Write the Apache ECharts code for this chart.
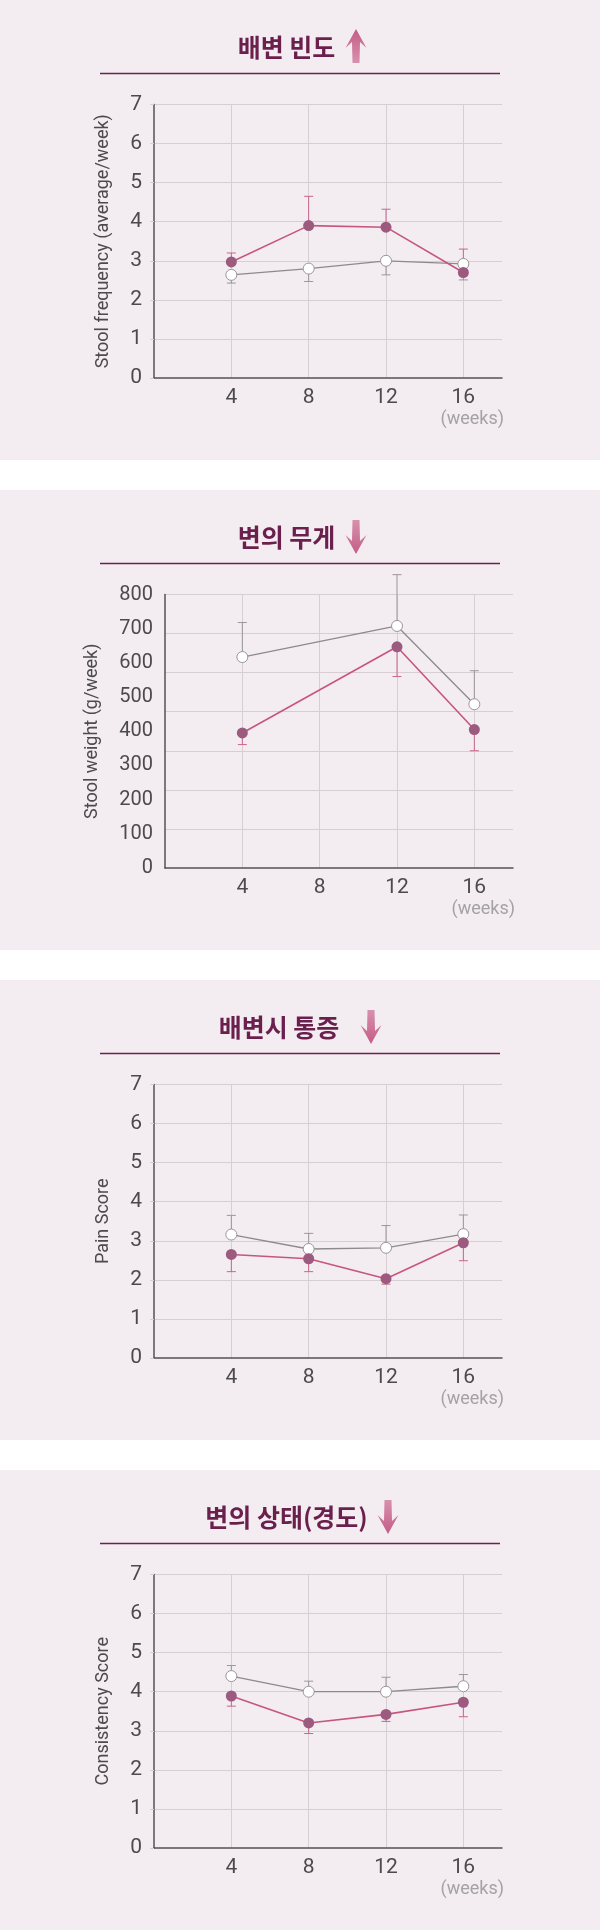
<!DOCTYPE html>
<html>
<head>
<meta charset="utf-8">
<script src="https://cdn.jsdelivr.net/npm/echarts@6/dist/echarts.min.js"></script>
<style>
  html, body { margin: 0; padding: 0; background: #ffffff; }
  #chart { width: 600px; height: 1930px; }
</style>
</head>
<body>
<div id="chart"></div>
<script>
// ---------- data ----------
const weeks = [4, 8, 12, 16];
const xTickLabels = ['4', '8', '12', '16'];

const titles = ['배변 빈도', '변의 무게', '배변시 통증', '변의 상태(경도)'];
const arrowDirs = ['up', 'down', 'down', 'down'];
const yNames = ['Stool frequency (average/week)', 'Stool weight (g/week)', 'Pain Score', 'Consistency Score'];
const unitLabel = '(weeks)';

// Panel 1: stool frequency
const freqTreat    = [2.97, 3.90, 3.86, 2.70];
const freqTreatErr = [3.20, 4.65, 4.32, 3.30];
const freqCtrl     = [2.64, 2.80, 3.00, 2.92];
const freqCtrlErr  = [2.43, 2.47, 2.64, 2.51];

// Panel 2: stool weight (no week-8 measurement)
const weightTreat    = [395, null, 647, 405];
const weightTreatErr = [361, null, 560, 343];
const weightCtrl     = [617, null, 708, 479];
const weightCtrlErr  = [718, null, 858, 577];

// Panel 3: pain score
const painTreat    = [2.65, 2.54, 2.03, 2.95];
const painTreatErr = [2.21, 2.21, 1.89, 2.49];
const painCtrl     = [3.16, 2.79, 2.82, 3.17];
const painCtrlErr  = [3.65, 3.19, 3.39, 3.66];

// Panel 4: consistency score
const consTreat    = [3.89, 3.20, 3.42, 3.73];
const consTreatErr = [3.63, 2.93, 3.24, 3.36];
const consCtrl     = [4.40, 4.00, 4.00, 4.14];
const consCtrlErr  = [4.67, 4.27, 4.37, 4.44];

// ---------- styling ----------
const panelTops = [0, 490, 980, 1470];
const panelH = 460;
const bgColor = '#f3edf1';
const gridColor = '#d6ced3';
const axisColor = '#555055';
const labelColor = '#4d4a4d';
const titleColor = '#6a1f4c';
const treatLine = '#c8557f';
const treatFill = '#9b5a7e';
const treatErrColor = '#c8658c';
const ctrlLine = '#8c8a8c';
const ctrlBorder = '#9a9699';
const ctrlErrColor = '#9a9699';
const FONT = 'Roboto, "Noto Sans", sans-serif';
const KFONT = '"Noto Sans CJK KR", "Noto Sans", sans-serif';

const gridLefts = [154, 165, 154, 154];
const gridW = 348;
const gridTopOff = 104.5;
const gridH = 273.5;
const titleX = [286.5, 286.5, 279, 286.5];
const arrowX = [356, 356, 371, 388];
const nameGaps = [42, 64, 42, 42];

const chart = echarts.init(document.getElementById('chart'), null, { renderer: 'canvas' });

const grids = [], xAxes = [], yAxes = [], series = [], graphics = [];

panelTops.forEach((top, i) => {
  graphics.push({ type: 'rect', z: -10, silent: true,
    shape: { x: 0, y: top, width: 600, height: panelH }, style: { fill: bgColor } });
  graphics.push({ type: 'text', z: 10, x: titleX[i], y: top + 47,
    style: { text: titles[i], fill: titleColor, font: '700 25px ' + KFONT,
      textAlign: 'center', textVerticalAlign: 'middle' } });
  graphics.push({ type: 'line', z: 10,
    shape: { x1: 100, y1: top + 73.5, x2: 500, y2: top + 73.5 },
    style: { stroke: '#6a2250', lineWidth: 1.5 } });
  const cx = arrowX[i];
  let pts;
  if (arrowDirs[i] === 'up') {
    pts = [[cx, top + 29], [cx + 10.5, top + 48], [cx + 4, top + 42], [cx + 3.5, top + 63],
           [cx - 3.5, top + 63], [cx - 4, top + 42], [cx - 10.5, top + 48]];
  } else {
    pts = [[cx, top + 64], [cx + 10.5, top + 45], [cx + 4, top + 51], [cx + 3.5, top + 30],
           [cx - 3.5, top + 30], [cx - 4, top + 51], [cx - 10.5, top + 45]];
  }
  graphics.push({ type: 'polygon', z: 10, shape: { points: pts },
    style: { fill: new echarts.graphic.LinearGradient(0, 0, 0, 1, [
      { offset: 0, color: arrowDirs[i] === 'up' ? '#c45d86' : '#d890ad' },
      { offset: 1, color: arrowDirs[i] === 'up' ? '#d890ad' : '#c45d86' }]) } });
  graphics.push({ type: 'text', z: 10, x: gridLefts[i] + gridW + 2, y: top + 419.5,
    style: { text: unitLabel, fill: '#a5a2a4', font: '18px ' + FONT,
      textAlign: 'right', textVerticalAlign: 'middle' } });

  grids.push({ left: gridLefts[i], top: top + gridTopOff, width: gridW, height: gridH });
  xAxes.push({
    type: 'value', gridIndex: i, min: 0, max: 18, interval: 4,
    axisLine: { show: true, lineStyle: { color: axisColor, width: 1.5 } },
    axisTick: { show: false },
    axisLabel: { fontSize: 21, fontFamily: FONT, color: labelColor, margin: 9,
      formatter: v => { const k = weeks.indexOf(v); return k >= 0 ? xTickLabels[k] : ''; } },
    splitLine: { show: true, showMinLine: false, showMaxLine: false,
      lineStyle: { color: gridColor, width: 1 } }
  });
});

function yAxisBase(i, extra) {
  return Object.assign({
    type: 'value', gridIndex: i, min: 0, max: 7, interval: 1,
    name: yNames[i], nameLocation: 'middle', nameGap: nameGaps[i], nameRotate: 90,
    nameTextStyle: { fontSize: 18, fontFamily: FONT, color: '#4d4a4d' },
    axisLine: { show: true, lineStyle: { color: axisColor, width: 1.5 } },
    axisTick: { show: true, length: 4, lineStyle: { color: gridColor } },
    axisLabel: { fontSize: 21, fontFamily: FONT, color: labelColor, margin: 12 },
    splitLine: { show: true, showMinLine: false, lineStyle: { color: gridColor, width: 1.2 } }
  }, extra || {});
}
// y axes: 0 -> panel1, 1 -> panel2 labels, 2 -> panel2 grid lines, 3 -> panel3, 4 -> panel4
yAxes.push(yAxisBase(0));
yAxes.push(yAxisBase(1, { min: 0, max: 800, interval: 100, splitLine: { show: false },
  axisTick: { show: false },
  axisLabel: { fontSize: 20, fontFamily: FONT, color: labelColor, margin: 12 } }));
yAxes.push({ type: 'value', gridIndex: 1, min: 0, max: 7, interval: 1, position: 'left',
  axisLine: { show: false }, axisTick: { show: false }, axisLabel: { show: false },
  splitLine: { show: true, showMinLine: false, lineStyle: { color: gridColor, width: 1.2 } } });
yAxes.push(yAxisBase(2));
yAxes.push(yAxisBase(3));

function errSeries(xi, yi, means, ends, color) {
  const d = [];
  weeks.forEach((w, k) => { if (means[k] != null) d.push([w, means[k], ends[k]]); });
  return {
    type: 'custom', xAxisIndex: xi, yAxisIndex: yi, clip: false, z: 2, silent: true,
    encode: { x: 0, y: [1, 2] }, data: d,
    renderItem: (params, api) => {
      const p1 = api.coord([api.value(0), api.value(1)]);
      const p2 = api.coord([api.value(0), api.value(2)]);
      const st = { stroke: color, lineWidth: 1 };
      return { type: 'group', children: [
        { type: 'line', shape: { x1: p1[0], y1: p1[1], x2: p2[0], y2: p2[1] }, style: st },
        { type: 'line', shape: { x1: p2[0] - 4.5, y1: p2[1], x2: p2[0] + 4.5, y2: p2[1] }, style: st }
      ] };
    }
  };
}
function pairs(vals) { return weeks.map((w, k) => [w, vals[k]]); }
function ctrlSeries(xi, yi, vals) {
  return { type: 'line', xAxisIndex: xi, yAxisIndex: yi, data: pairs(vals), connectNulls: true,
    symbol: 'circle', symbolSize: 11, z: 3, silent: true,
    lineStyle: { color: ctrlLine, width: 1.3 },
    itemStyle: { color: '#ffffff', borderColor: ctrlBorder, borderWidth: 1 } };
}
function treatSeries(xi, yi, vals) {
  return { type: 'line', xAxisIndex: xi, yAxisIndex: yi, data: pairs(vals), connectNulls: true,
    symbol: 'circle', symbolSize: 11, z: 4, silent: true,
    lineStyle: { color: treatLine, width: 1.6 },
    itemStyle: { color: treatFill, borderColor: treatFill, borderWidth: 0 } };
}

const panels = [
  { xi: 0, yi: 0, t: freqTreat, te: freqTreatErr, c: freqCtrl, ce: freqCtrlErr },
  { xi: 1, yi: 1, t: weightTreat, te: weightTreatErr, c: weightCtrl, ce: weightCtrlErr },
  { xi: 2, yi: 3, t: painTreat, te: painTreatErr, c: painCtrl, ce: painCtrlErr },
  { xi: 3, yi: 4, t: consTreat, te: consTreatErr, c: consCtrl, ce: consCtrlErr }
];
panels.forEach(p => {
  series.push(errSeries(p.xi, p.yi, p.c, p.ce, ctrlErrColor));
  series.push(errSeries(p.xi, p.yi, p.t, p.te, treatErrColor));
  series.push(ctrlSeries(p.xi, p.yi, p.c));
  series.push(treatSeries(p.xi, p.yi, p.t));
});

chart.setOption({
  animation: false,
  backgroundColor: '#ffffff',
  grid: grids, xAxis: xAxes, yAxis: yAxes, series: series,
  graphic: graphics
});
</script>
</body>
</html>
